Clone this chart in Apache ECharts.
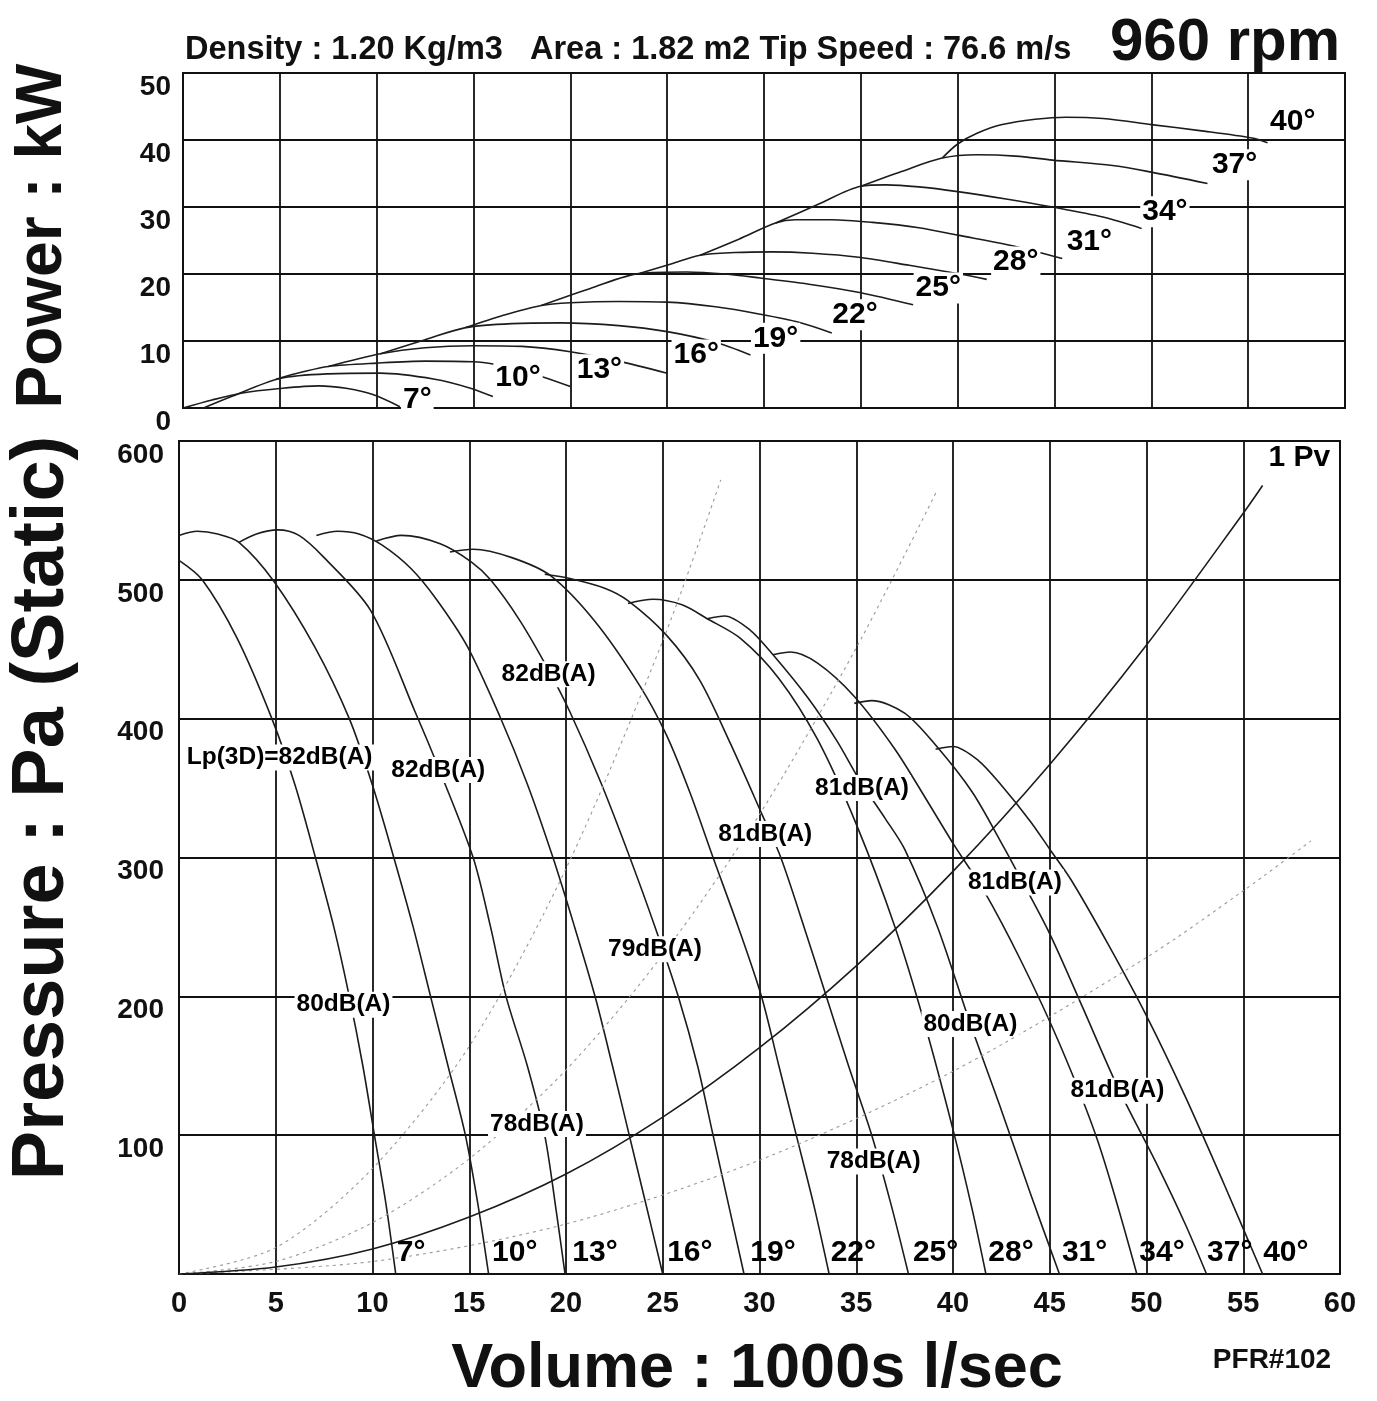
<!DOCTYPE html>
<html>
<head>
<meta charset="utf-8">
<script src="https://cdn.jsdelivr.net/npm/echarts/dist/echarts.min.js"></script>
<style>
  html, body { margin: 0; padding: 0; background: #fff; }
  #chart { width: 1377px; height: 1401px; }
</style>
</head>
<body>
<div id="chart"></div>
<script>
// ---------- DATA ----------
const angles = ['7°','10°','13°','16°','19°','22°','25°','28°','31°','34°','37°','40°'];
const xTicks = [0,5,10,15,20,25,30,35,40,45,50,55,60];

// Power curves: [volume (1000s l/s), power kW]
const w07 = [[0,0],[1.5,1.2],[3,2.2],[5,2.9],[7,3.3],[8.5,2.9],[9.8,2.0],[11.2,0.2]];
const w10 = [[0,-1.3],[2.5,1.7],[5,4.4],[7.5,5.1],[10.2,5.2],[13,4.3],[14.8,3.0],[16,1.7]];
const w13 = [[4.8,4.3],[6.2,5.4],[7.5,6.2],[10,6.7],[12.5,7.0],[15,6.9],[17.5,5.6],[20,3.2]];
const w16 = [[7.5,6.2],[10.2,8.1],[12.5,9.0],[15,9.3],[17.5,9.2],[20,8.4],[22.5,7.0],[25,5.2]];
const w19 = [[10.2,8.1],[12.5,10.2],[14.6,12.0],[17,12.6],[19.5,12.7],[22.5,12.3],[25,11.4],[27.5,9.8],[29.3,7.9]];
const w22 = [[14.6,12.0],[16.5,13.8],[18.5,15.3],[20,15.7],[22.5,15.9],[25,15.8],[27.5,15.1],[29.8,14.0],[31.8,12.8],[33.5,11.2]];
const w25 = [[18.5,15.3],[21,17.8],[23.6,20.1],[26,20.3],[28,20.0],[29.8,19.4],[32.5,18.4],[35,17.2],[37.7,15.4]];
const w28 = [[23.6,20.1],[25.2,21.5],[26.7,22.8],[28.5,23.2],[30.4,23.3],[32.5,23.1],[34.9,22.5],[37.5,21.3],[39.9,20.1],[41.5,19.2]];
const w31 = [[26.7,22.8],[28.7,25.2],[30.6,27.6],[31.6,28.1],[33.5,28.1],[35.6,27.7],[38,26.9],[40,25.8],[43,24.1],[45.4,22.3]];
const w34 = [[30.6,27.6],[32.8,30.4],[35,33.1],[36.3,33.3],[38,33.0],[40,32.3],[42.5,31.2],[44.9,30.0],[47.5,28.5],[49.5,26.8]];
const w37 = [[35,33.1],[37.1,35.3],[39.2,37.3],[41,37.8],[43,37.6],[44.9,37.0],[48,36.2],[50,35.2],[52.9,33.5]];
const w40 = [[39.2,37.3],[40,39.4],[41,41.0],[42.3,42.3],[44,43.1],[45.6,43.4],[47.5,43.2],[50,42.3],[52.5,41.4],[55.2,40.3],[56,39.6]];

// Static pressure curves: [volume, Pa]
const p07 = [[0,514],[1.2,500],[3,458],[4.8,400],[6,352],[7.05,300],[8,250],[8.8,200],[9.5,150],[10.1,100],[10.7,50],[11.2,0]];
const p10 = [[0,532],[0.95,535],[2,533],[3.1,527],[4.9,499],[7,452],[8.8,400],[10,352],[11.1,300],[12.1,250],[13,200],[13.9,150],[14.8,100],[15.45,50],[16,0]];
const p13 = [[3.1,527],[4,533],[5.1,536],[6.2,532],[7.5,516],[9.9,478],[12.2,405],[13.4,365],[15.2,300],[16.1,250],[16.9,200],[18,150],[18.9,100],[19.5,45],[19.95,0]];
const p16 = [[7.1,532],[8.2,535],[9.3,533],[10.5,525],[12,508],[13.3,486],[14.9,452],[16.6,401],[18,353],[19.3,301],[20.4,252],[21.5,200],[22.4,150],[23.2,104],[24.1,52],[25,0]];
const p19 = [[10.2,528],[11.5,532],[13.5,526],[15.1,513],[16.1,500],[17.6,471],[19.1,435],[20.2,405],[21.8,354],[23.3,300],[24.6,250],[25.8,200],[26.8,150],[27.6,100],[28.4,50],[29.2,0]];
const p22 = [[14,520],[15.2,522],[17.2,516],[19.2,503],[21.5,470],[23.8,424],[25.2,388],[26.4,347],[27.6,300],[28.9,250],[30.1,200],[31,150],[31.9,100],[32.8,50],[33.6,0]];
const p25 = [[18.9,504],[20.2,501],[22,494],[23.2,485],[25.2,460],[26.9,428],[28.5,382],[30.1,332],[31.1,300],[32.3,250],[33.45,200],[34.6,150],[35.8,100],[36.8,50],[37.7,0]];
const p28 = [[23.2,483],[24.5,486],[26,482],[27.3,472],[29,458],[31,429],[33,385],[35,324],[37,250],[38.5,182],[40,104],[41,46],[41.7,0]];
const p31 = [[27.3,472],[28.2,474],[29.5,464],[30.7,446],[32.5,415],[34,384],[35.2,355],[36.5,328],[37.5,306],[39.2,250],[40.9,180],[42.5,118],[44,58],[45.5,0]];
const p34 = [[30.7,446],[31.6,448],[33,440],[34.9,416],[37,378],[38.7,340],[40.1,308],[41.6,276],[43.5,226],[45.5,166],[47.5,95],[49.5,0]];
const p37 = [[34.9,411],[35.8,413],[37.5,404],[39.1,381],[41,347],[42.6,308],[43.3,290],[45,245],[46.7,192],[48.5,135],[50.5,80],[52,36],[53.1,0]];
const p40 = [[39.1,378],[40,380],[41.3,370],[42.5,352],[44,326],[45,306],[46.1,284],[48,238],[50,186],[52,128],[54,65],[56,0]];

// System / velocity pressure lines
const pv1  = [[0,0],[5,5],[10,18],[15,41],[20,72],[25,113],[30,163],[35,222],[40,290],[45,367],[50,453],[55,548],[56,568]];
const pv4  = [[0,0],[5,19],[10,76],[15,164],[20,292],[25,456],[28,572]];
const pv2  = [[0,0],[5,9],[10,37],[15,83],[20,147],[25,230],[30,331],[35,451],[39.2,565]];
const pv05 = [[0,0],[10,9],[20,36],[30,82],[40,146],[50,228],[55,276],[58.5,312]];

// Text annotations in data coordinates [x, y, text]
const powerAngleLabels = [[12.1,1.2,'7°'],[17.3,4.5,'10°'],[21.5,5.7,'13°'],[26.5,7.9,'16°'],[30.6,10.4,'19°'],[34.7,13.9,'22°'],[39.0,17.9,'25°'],[43.0,21.8,'28°'],[46.8,24.8,'31°'],[50.7,29.3,'34°'],[54.3,36.3,'37°'],[57.3,42.7,'40°']];
const pressAngleLabels = [[12.0,15,'7°'],[17.35,15,'10°'],[21.5,15,'13°'],[26.4,15,'16°'],[30.7,15,'19°'],[34.85,15,'22°'],[39.1,15,'25°'],[43.0,15,'28°'],[46.8,15,'31°'],[50.8,15,'34°'],[54.3,15,'37°'],[57.2,15,'40°']];
const dbLabels = [[5.2,372,'Lp(3D)=82dB(A)'],[13.4,363,'82dB(A)'],[19.1,432,'82dB(A)'],[8.5,194,'80dB(A)'],[18.5,108,'78dB(A)'],[24.6,234,'79dB(A)'],[30.3,317,'81dB(A)'],[35.3,350,'81dB(A)'],[43.2,282,'81dB(A)'],[40.9,180,'80dB(A)'],[48.5,132,'81dB(A)'],[35.9,81,'78dB(A)']];
const pvLabel = [[57.9,588,'1 Pv']];

// ---------- CHART ----------
const FONT = '"Liberation Sans", Arial, Helvetica, sans-serif';
const INK = '#111';
const powerCurves = [w07,w10,w13,w16,w19,w22,w25,w28,w31,w34,w37,w40];
const pressCurves = [p07,p10,p13,p16,p19,p22,p25,p28,p31,p34,p37,p40];

function curve(name, data, gi, style) {
  return {
    name, type: 'line', xAxisIndex: gi, yAxisIndex: gi, data,
    showSymbol: false, symbol: 'none', smooth: 0.3,
    silent: true, z: 3,
    lineStyle: style || { color: '#1c1c1c', width: 1.6 }
  };
}
function labels(arr, gi, size, bg) {
  return {
    type: 'scatter', xAxisIndex: gi, yAxisIndex: gi, symbolSize: 1, silent: true, z: 10,
    itemStyle: { color: 'rgba(255,255,255,0)', opacity: 1 },
    data: arr.map(d => ({ value: [d[0], d[1]], name: d[2] })),
    label: {
      show: true, position: 'inside', formatter: p => p.name, opacity: 1,
      fontFamily: FONT, fontWeight: 'bold', fontSize: size, color: '#000',
      textBorderWidth: 0,
      backgroundColor: bg ? '#fff' : 'transparent', padding: bg ? [1, 2, 0, 2] : 0
    }
  };
}
const axisCommon = {
  type: 'value',
  axisLine: { show: true, lineStyle: { color: INK, width: 2 } },
  axisTick: { show: false },
  splitLine: { show: true, lineStyle: { color: INK, width: 1.8 } }
};

const series = [];
powerCurves.forEach((d, i) => series.push(curve('P ' + angles[i], d, 0)));
pressCurves.forEach((d, i) => series.push(curve('S ' + angles[i], d, 1)));
const dotted = { color: '#9a9a9a', width: 1.1, type: [3, 4] };
series.push(curve('4 Pv', pv4, 1, dotted));
series.push(curve('2 Pv', pv2, 1, dotted));
series.push(curve('0.5 Pv', pv05, 1, dotted));
series.push(curve('1 Pv', pv1, 1, { color: '#1c1c1c', width: 1.6 }));
series.push(labels(powerAngleLabels, 0, 30, true));
series.push(labels(pressAngleLabels, 1, 30, false));
series.push(labels(dbLabels, 1, 24.5, true));
series.push(labels(pvLabel, 1, 30, true));

const chart = echarts.init(document.getElementById('chart'), null, { renderer: 'canvas' });
chart.setOption({
  animation: false,
  backgroundColor: '#fff',
  grid: [
    { left: 183, top: 73, width: 1162, height: 335, show: true, borderColor: INK, borderWidth: 2 },
    { left: 179, top: 441, width: 1161, height: 833, show: true, borderColor: INK, borderWidth: 2 }
  ],
  xAxis: [
    Object.assign({}, axisCommon, { gridIndex: 0, min: 0, max: 60, interval: 5, axisLabel: { show: false } }),
    Object.assign({}, axisCommon, { gridIndex: 1, min: 0, max: 60, interval: 5,
      axisLabel: { show: true, margin: 15, fontFamily: FONT, fontWeight: 'bold', fontSize: 29, color: INK,
        formatter: v => (xTicks.indexOf(v) >= 0 ? String(v) : '') } })
  ],
  yAxis: [
    Object.assign({}, axisCommon, { gridIndex: 0, min: 0, max: 50, interval: 10,
      axisLabel: { show: true, margin: 12, verticalAlign: 'top', fontFamily: FONT, fontWeight: 'bold', fontSize: 28, color: INK } }),
    Object.assign({}, axisCommon, { gridIndex: 1, min: 0, max: 600, interval: 100,
      axisLabel: { show: true, margin: 15, showMinLabel: false, verticalAlign: 'top', fontFamily: FONT, fontWeight: 'bold', fontSize: 28, color: INK } })
  ],
  graphic: [
    { type: 'text', x: 185, y: 50, style: { text: 'Density : 1.20 Kg/m3   Area : 1.82 m2 Tip Speed : 76.6 m/s', font: 'bold 32.5px ' + FONT, fill: INK, textAlign: 'left', textVerticalAlign: 'middle' } },
    { type: 'text', x: 1225, y: 43, style: { text: '960 rpm', font: 'bold 60px ' + FONT, fill: INK, textAlign: 'center', textVerticalAlign: 'middle' } },
    { type: 'text', x: 43, y: 236, rotation: Math.PI / 2, style: { text: 'Power : kW', font: 'bold 64px ' + FONT, fill: INK, textAlign: 'center', textVerticalAlign: 'middle' } },
    { type: 'text', x: 43, y: 808, rotation: Math.PI / 2, style: { text: 'Pressure : Pa (Static)', font: 'bold 74px ' + FONT, fill: INK, textAlign: 'center', textVerticalAlign: 'middle' } },
    { type: 'text', x: 757, y: 1370, style: { text: 'Volume : 1000s l/sec', font: 'bold 63px ' + FONT, fill: INK, textAlign: 'center', textVerticalAlign: 'middle' } },
    { type: 'text', x: 1272, y: 1360, style: { text: 'PFR#102', font: 'bold 28px ' + FONT, fill: INK, textAlign: 'center', textVerticalAlign: 'middle' } }
  ],
  series
});
</script>
</body>
</html>
